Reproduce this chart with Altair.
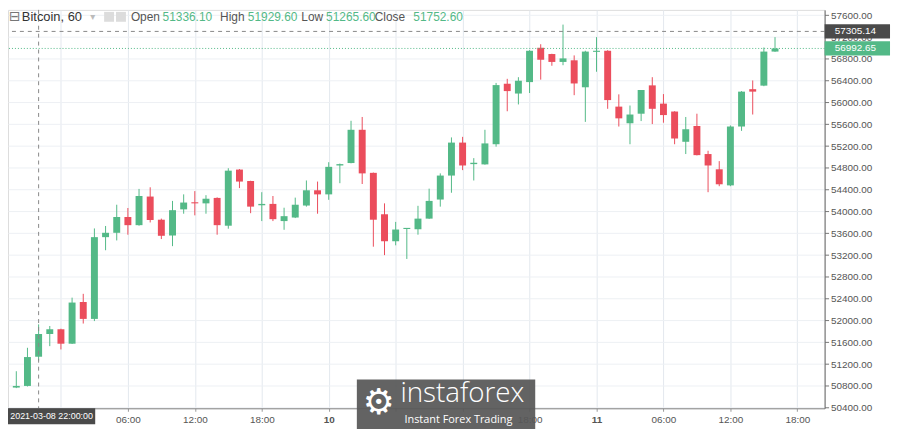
import altair as alt
import numpy as np
import pandas as pd

# ---------------- data (hourly BTC candles) ----------------
start_time = "2021-03-08 20:00"
opens = [50770, 50800, 51336.1, 51752.6, 51840, 51575, 52340, 52030, 53530, 53610,
         53900, 53750, 54275, 53850, 53560, 54040, 54165, 54150, 54250, 53740,
         54770, 54560, 54115, 54140, 53825, 53890, 54110, 54390, 54315, 54845,
         54890, 55500, 54710, 53950, 53455, 53680, 53675, 53870, 54220, 54660,
         55265, 54870, 54865, 55235, 56345, 56165, 56375, 57005, 56890, 56745,
         56775, 56280, 56930, 56950, 55925, 55620, 55795, 56315, 55980, 55835,
         55280, 55570, 55055, 54775, 54480, 55560, 56245, 56310, 56935]
highs = [51070, 51500, 51929.6, 51900, 51850, 52420, 52490, 53690, 53735, 54125,
         54065, 54415, 54445, 53870, 54195, 54315, 54375, 54300, 54260, 54795,
         54780, 54565, 54355, 54285, 54070, 54255, 54570, 54550, 54905, 54880,
         55665, 55735, 54715, 54150, 53810, 53695, 54105, 54420, 54700, 55360,
         55370, 54980, 55500, 56360, 56435, 56465, 56960, 57070, 56895, 57430,
         56865, 56950, 57200, 56960, 56150, 55945, 56230, 56465, 56155, 55840,
         55735, 55795, 55115, 54925, 55580, 56210, 56405, 57010, 57200]
lows = [50760, 50790, 51265.6, 51530, 51470, 51570, 51945, 51990, 53290, 53470,
        53575, 53740, 53800, 53495, 53365, 53960, 53930, 53960, 53575, 53685,
        54430, 53970, 53825, 53825, 53665, 53880, 54090, 53960, 54215, 54520,
        54885, 54505, 53355, 53200, 53380, 53130, 53575, 53865, 54090, 54345,
        54760, 54570, 54860, 55190, 55840, 55965, 56175, 56420, 56675, 56685,
        56135, 55645, 56565, 55885, 55560, 55235, 55660, 55605, 55630, 55235,
        55055, 55030, 54355, 54465, 54465, 55480, 55780, 56300, 56930]
closes = [50800, 51330, 51752.6, 51840, 51575, 52330, 52030, 53530, 53610, 53900,
          53750, 54285, 53845, 53555, 54025, 54165, 54150, 54235, 53750, 54750,
          54550, 54090, 54140, 53860, 53915, 54125, 54390, 54315, 54820, 54870,
          55500, 54700, 53850, 53455, 53670, 53690, 53870, 54195, 54660, 55265,
          54845, 54895, 55250, 56320, 56210, 56400, 56950, 56785, 56745, 56810,
          56350, 56935, 56940, 56045, 55710, 55780, 56230, 55885, 55770, 55340,
          55510, 55035, 54845, 54500, 55560, 56200, 56200, 56935, 56992.65]

header_title = "Bitcoin, 60"
header_labels = ["Open", "High", "Low", "Close"]
header_values = [51336.10, 51929.60, 51265.60, 51752.60]

crosshair_time = "2021-03-08 22:00:00"
crosshair_hour = [22]
crosshair_price = [57305.14]
last_price = [56992.65]

y_ticks = list(range(50400, 57601, 400))
x_ticks = list(range(24, 92, 6))
hidden_x_labels = [24, 54, 60]   # covered by the time box / watermark in the picture

# ---------------- styling ----------------
GREEN = "#53b987"
RED = "#eb4d5c"
W, H = 824, 402
FONT = "Liberation Sans"

times = pd.date_range(start_time, periods=len(opens), freq="h")
df = pd.DataFrame({"time": times, "open": opens, "high": highs,
                   "low": lows, "close": closes})
df["hour"] = (df["time"] - pd.Timestamp("2021-03-08 00:00")) / pd.Timedelta(hours=1)
df["body_lo"] = np.minimum(df["open"], df["close"])
df["body_hi"] = np.maximum(np.maximum(df["open"], df["close"]), df["body_lo"] + 20)

x_scale = alt.Scale(domain=[19.7, 92.0], nice=False, zero=False)
y_scale = alt.Scale(domain=[50390, 57700], nice=False, zero=False)

hidden_test = " || ".join(f"datum.value == {v}" for v in hidden_x_labels)
x_axis = alt.Axis(
    values=x_ticks,
    labelExpr=f"({hidden_test}) ? '' : (datum.value % 24 == 0 ? toString(8 + floor(datum.value / 24)) : "
              "((datum.value % 24) < 10 ? '0' : '') + toString(datum.value % 24) + ':00')",
    labelFontWeight={"condition": {"test": "datum.value % 24 == 0", "value": "bold"},
                     "value": "normal"},
    grid=True, gridColor="#e3e8ee", tickSize=3, tickColor="#999",
    domainColor="#8a8a8a", labelColor="#555", labelFontSize=10,
    labelPadding=3, title=None, zindex=0, labelFlush=False, labelOverlap=False)
y_axis = alt.Axis(
    orient="right", values=y_ticks, format=".2f", grid=True, gridColor="#edf0f4",
    tickSize=4, tickColor="#777", domainColor="#666", labelColor="#555",
    labelFontSize=10, labelPadding=2, title=None, zindex=0, labelOverlap=False,
    labelFlush=False)

X = lambda f: alt.X(f, type="quantitative", scale=x_scale, axis=x_axis)
Y = lambda f: alt.Y(f, type="quantitative", scale=y_scale, axis=y_axis)

color = alt.condition("datum.close >= datum.open", alt.value(GREEN), alt.value(RED))
base = alt.Chart(df)

wicks = base.mark_rule(strokeWidth=1).encode(
    x=X("hour"), y=Y("low"), y2="high", color=color)
bodies = base.mark_bar(size=7).encode(
    x=X("hour"), y=Y("body_lo"), y2="body_hi", color=color)

# crosshair + last-price lines
vline = alt.Chart(pd.DataFrame({"hour": crosshair_hour})).mark_rule(
    color="#888", strokeDash=[4, 4], strokeWidth=1).encode(x=X("hour"))
hline = alt.Chart(pd.DataFrame({"price": crosshair_price})).mark_rule(
    color="#888", strokeDash=[4, 4], strokeWidth=1).encode(y=Y("price"))
lastline = alt.Chart(pd.DataFrame({"price": last_price})).mark_rule(
    color=GREEN, strokeDash=[1, 2], strokeWidth=1).encode(y=Y("price"))

# right-axis price boxes
box_df = pd.DataFrame({
    "price": crosshair_price + last_price,
    "fill": ["#4a4a4a", GREEN],
})
box_df["top"] = box_df["price"] + 130
box_df["bot"] = box_df["price"] - 130
box_df["txt"] = box_df["price"].map(lambda v: f"{v:.2f}")
price_boxes = alt.Chart(box_df).mark_rect().encode(
    x=alt.value(W), x2=alt.value(W + 66), y=Y("top"), y2="bot",
    color=alt.Color("fill:N", scale=None))
price_texts = alt.Chart(box_df).mark_text(
    color="white", fontSize=10, align="center", baseline="middle", font=FONT).encode(
    x=alt.value(W + 31), y=Y("price"), text="txt:N")

one = pd.DataFrame({"k": [0]})

# crosshair time box on the x axis
time_box = alt.Chart(one).mark_rect(color="#4a4a4a").encode(
    x=alt.value(0), x2=alt.value(88), y=alt.value(H), y2=alt.value(H + 16))
time_text = alt.Chart(one).mark_text(
    color="white", fontSize=9, align="center", baseline="middle", font=FONT).encode(
    x=alt.value(44), y=alt.value(H + 8), text=alt.value(crosshair_time))

# watermark
wm_box = alt.Chart(one).mark_rect(color="#575757", opacity=0.93).encode(
    x=alt.value(352), x2=alt.value(532), y=alt.value(H - 29), y2=alt.value(H + 22))
wm_icon = alt.Chart(one).mark_text(
    color="white", fontSize=36, align="center", baseline="middle",
    font="DejaVu Sans").encode(
    x=alt.value(374), y=alt.value(H - 5), text=alt.value("\u2699"))
wm_name = alt.Chart(one).mark_text(
    color="white", fontSize=28, align="left", baseline="middle",
    font="Open Sans", fontWeight=300).encode(
    x=alt.value(396), y=alt.value(H - 14), text=alt.value("instaforex"))
wm_sub = alt.Chart(one).mark_text(
    color="white", fontSize=11, align="left", baseline="middle", font="Open Sans").encode(
    x=alt.value(400), y=alt.value(H + 12), text=alt.value("Instant Forex Trading"))

# header legend line
HY = 7
header_layers = [
    alt.Chart(one).mark_text(color="#777", fontSize=14, align="left", baseline="middle",
                             font="DejaVu Sans").encode(
        x=alt.value(1), y=alt.value(HY), text=alt.value("\u229f")),
    alt.Chart(one).mark_text(color="#333", fontSize=13, align="left", baseline="middle",
                             font=FONT).encode(
        x=alt.value(14), y=alt.value(HY), text=alt.value(header_title)),
    alt.Chart(one).mark_text(color="#bbb", fontSize=10, align="left", baseline="middle",
                             font="DejaVu Sans").encode(
        x=alt.value(83), y=alt.value(HY), text=alt.value("\u25be")),
    alt.Chart(one).mark_rect(color="#dcdcdc").encode(
        x=alt.value(97), x2=alt.value(107), y=alt.value(HY - 5), y2=alt.value(HY + 5)),
    alt.Chart(one).mark_rect(color="#dcdcdc").encode(
        x=alt.value(109), x2=alt.value(119), y=alt.value(HY - 5), y2=alt.value(HY + 5)),
]
label_x = [124, 214, 296, 370]
value_x = [156, 242, 321, 409]
for lab, val, lx, vx in zip(header_labels, header_values, label_x, value_x):
    header_layers.append(alt.Chart(one).mark_text(
        color="#555", fontSize=12, align="left", baseline="middle", font=FONT).encode(
        x=alt.value(lx), y=alt.value(HY), text=alt.value(lab)))
    header_layers.append(alt.Chart(one).mark_text(
        color=GREEN, fontSize=12, align="left", baseline="middle", font=FONT).encode(
        x=alt.value(vx), y=alt.value(HY), text=alt.value(f"{val:.2f}")))

chart = alt.layer(
    wicks, bodies, vline, hline, lastline, price_boxes, price_texts,
    time_box, time_text, wm_box, wm_icon, wm_name, wm_sub, *header_layers
).properties(
    width=W, height=H,
    padding={"left": 0, "top": 0, "right": 68, "bottom": 19},
    autosize=alt.AutoSizeParams(type="none"),
).configure_view(stroke=None).configure(font=FONT)

chart.save("out.html", embed_options={"renderer": "svg", "actions": False})
